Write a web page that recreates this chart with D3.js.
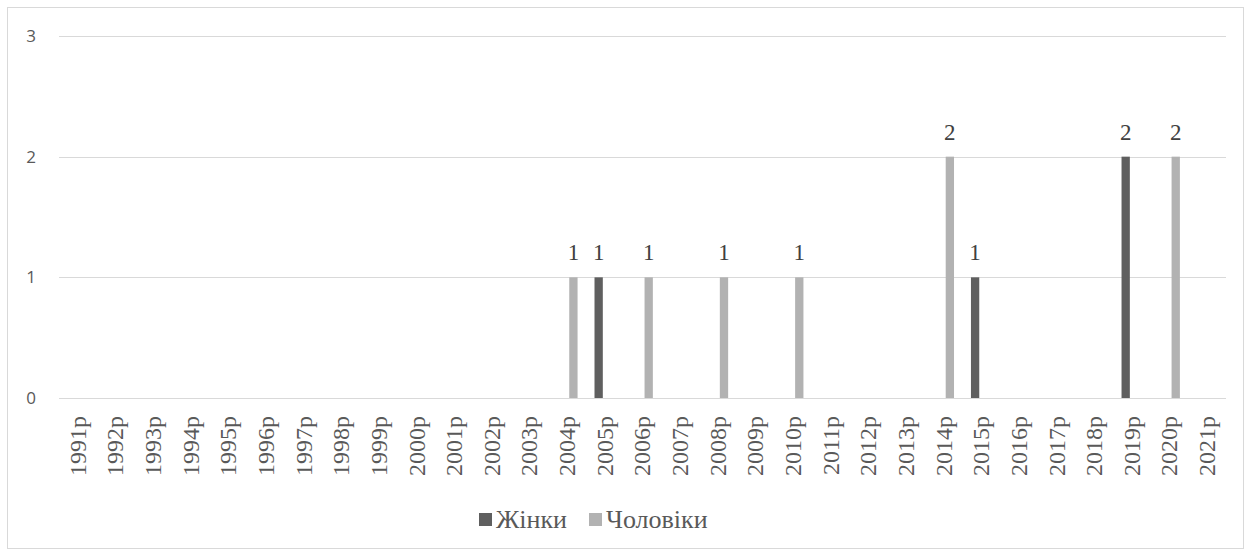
<!DOCTYPE html>
<html>
<head>
<meta charset="utf-8">
<script src="https://cdn.jsdelivr.net/npm/d3@7"></script>
<style>
  body { margin: 0; background: #fff; }
  svg { display: block; }
  .serif { font-family: "Liberation Serif", "DejaVu Serif", serif; }
  .sans { font-family: "Open Sans", "Liberation Sans", sans-serif; }
</style>
</head>
<body>
<svg id="chart" width="1251" height="556"></svg>
<script>
// years on the x axis
var years = d3.range(1991, 2022).map(function(y) { return y + "р" });
var seriesNames = ["Жінки", "Чоловіки"];
var seriesColors = ["#5f5f5f", "#b2b2b2"];
// values per year, empty years are 0
var women = [0,0,0,0,0,0,0,0,0,0,0,0,0,0,1,0,0,0,0,0,0,0,0,0,1,0,0,0,2,0,0];
var men   = [0,0,0,0,0,0,0,0,0,0,0,0,0,1,0,1,0,1,0,1,0,0,0,2,0,0,0,0,0,2,0];
var yTicks = [0, 1, 2, 3];

var svg = d3.select('#chart');
var W = 1251, H = 556;
var margin = { left: 59, right: 25, top: 36, bottom: 158 };

// chart frame
svg.append('rect')
    .attr('x', 7.5).attr('y', 7.5)
    .attr('width', W - 15).attr('height', H - 15)
    .attr('fill', '#fff').attr('stroke', '#d9d9d9').attr('stroke-width', 1);

var x0 = d3.scaleBand().domain(years)
    .range([margin.left, W - margin.right])
    .paddingInner(0.45).paddingOuter(0.225);
var x1 = d3.scaleBand().domain(seriesNames)
    .range([0, x0.bandwidth()]).paddingInner(0.33);
var y = d3.scaleLinear().domain([0, 3]).range([H - margin.bottom, margin.top]);

// gridlines
svg.append('g').selectAll('line')
    .data(yTicks).enter().append('line')
    .attr('x1', margin.left).attr('x2', W - margin.right)
    .attr('y1', function(d) { return Math.round(y(d)) + 0.5 })
    .attr('y2', function(d) { return Math.round(y(d)) + 0.5 })
    .attr('stroke', '#d9d9d9').attr('stroke-width', 1);

// y tick labels
svg.append('g').selectAll('text')
    .data(yTicks).enter().append('text')
    .attr('class', 'sans')
    .attr('x', 31).attr('y', function(d) { return y(d) })
    .attr('dy', '0.35em')
    .attr('text-anchor', 'middle')
    .attr('font-size', 17).attr('fill', '#595959')
    .text(function(d) { return d });

// bars
var series = [women, men];
series.forEach(function(vals, si) {
    var name = seriesNames[si];
    var g = svg.append('g');
    var data = years.map(function(yr, i) { return { year: yr, v: vals[i] } })
        .filter(function(d) { return d.v > 0 });
    g.selectAll('rect').data(data).enter().append('rect')
        .attr('x', function(d) { return x0(d.year) + x1(name) })
        .attr('width', x1.bandwidth())
        .attr('y', function(d) { return y(d.v) })
        .attr('height', function(d) { return y(0) - y(d.v) })
        .attr('fill', seriesColors[si]);
    g.selectAll('text').data(data).enter().append('text')
        .attr('class', 'serif')
        .attr('x', function(d) { return x0(d.year) + x1(name) + x1.bandwidth() / 2 })
        .attr('y', function(d) { return y(d.v) - 17 })
        .attr('text-anchor', 'middle')
        .attr('font-size', 23).attr('fill', '#404040')
        .text(function(d) { return d.v });
});

// x labels, rotated
svg.append('g').selectAll('text')
    .data(years).enter().append('text')
    .attr('class', 'serif')
    .attr('transform', function(d) {
        return 'translate(' + (x0(d) + x0.bandwidth() / 2) + ',' + 416 + ') rotate(-90)' })
    .attr('dy', '0.33em')
    .attr('text-anchor', 'end')
    .attr('font-size', 24).attr('fill', '#595959')
    .text(function(d) { return d });

// legend
var legend = svg.append('g');
var legX = [479, 589];
seriesNames.forEach(function(name, i) {
    legend.append('rect')
        .attr('x', legX[i]).attr('y', 513)
        .attr('width', 13).attr('height', 13)
        .attr('fill', seriesColors[i]);
    legend.append('text')
        .attr('class', 'serif')
        .attr('x', legX[i] + 17).attr('y', 528)
        .attr('font-size', 26).attr('fill', '#595959')
        .text(name);
});
</script>
</body>
</html>
